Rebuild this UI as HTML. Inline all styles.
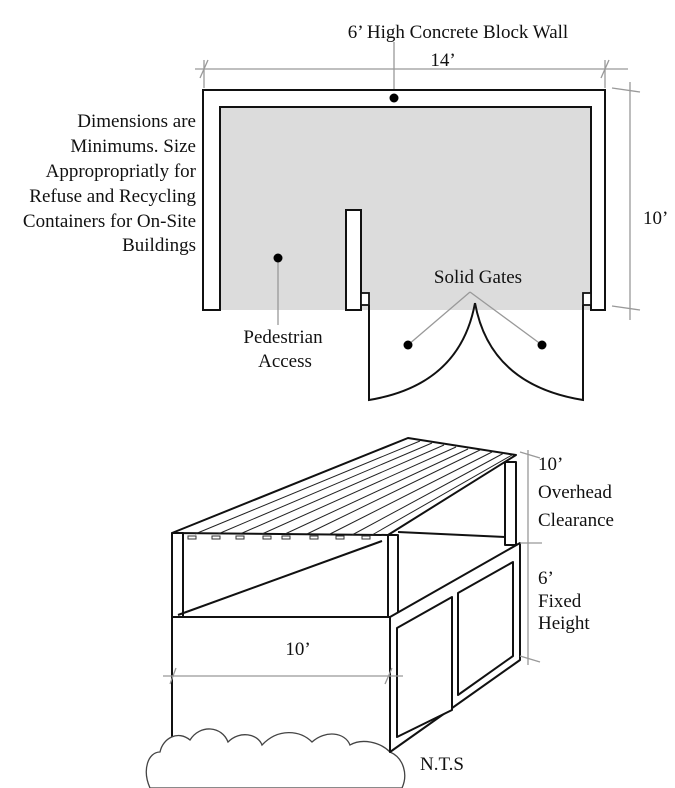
<!DOCTYPE html>
<html><head><meta charset="utf-8"><style>
html,body{margin:0;padding:0;background:#fff;}
svg{display:block;font-family:"Liberation Serif",serif;}
</style></head><body>
<svg width="675" height="788" viewBox="0 0 675 788" xmlns="http://www.w3.org/2000/svg">
<!-- plan -->
<rect x="220" y="106" width="371" height="204" fill="#dcdcdc"/>
<g stroke="#999" stroke-width="1.3" fill="none">
<line x1="195" y1="69" x2="628" y2="69"/>
<line x1="200" y1="78" x2="208" y2="60"/>
<line x1="601" y1="78" x2="609" y2="60"/>
<line x1="204" y1="60" x2="204" y2="88"/>
<line x1="605" y1="60" x2="605" y2="88"/>
<line x1="630" y1="82" x2="630" y2="320"/>
<line x1="612" y1="88" x2="640" y2="92"/>
<line x1="612" y1="306" x2="640" y2="310"/>
<line x1="394" y1="42" x2="394" y2="98"/>
</g>
<path d="M203 310 V90 H605 V310 H591 V107 H220 V310 Z" fill="#fff" stroke="#111" stroke-width="2"/>
<rect x="346" y="210" width="15" height="100" fill="#fff" stroke="#111" stroke-width="2"/>
<rect x="361" y="293" width="8" height="12" fill="#fff" stroke="#111" stroke-width="1.8"/>
<rect x="583" y="293" width="8" height="12" fill="#fff" stroke="#111" stroke-width="1.8"/>
<g stroke="#999" stroke-width="1.3" fill="none">
<line x1="278" y1="258" x2="278" y2="325"/>
<line x1="408" y1="345" x2="470" y2="292"/>
<line x1="542" y1="345" x2="470" y2="292"/>
</g>
<g stroke="#111" stroke-width="2" fill="none">
<path d="M369 305 V400 Q460 385 475 303"/>
<path d="M583 305 V400 Q490 385 475 303"/>
</g>
<g fill="#000">
<circle cx="394" cy="98" r="4.5"/><circle cx="278" cy="258" r="4.5"/>
<circle cx="408" cy="345" r="4.5"/><circle cx="542" cy="345" r="4.5"/>
</g>
<!-- 3D -->
<g stroke="#111" stroke-width="2" fill="#fff" stroke-linejoin="round">
<path d="M172 533 L408 438 L516 455 L388 535 Z"/>
<rect x="172" y="533" width="11" height="84"/>
<rect x="388" y="535" width="10" height="82"/>
<rect x="505" y="462" width="11" height="83"/>
<line x1="178" y1="615" x2="382" y2="541"/>
<line x1="398" y1="532" x2="505" y2="537"/>
<path d="M172 740 V617 H390" fill="none"/>
</g>
<g stroke="#222" stroke-width="1">
<line x1="195" y1="534" x2="420" y2="441"/>
<line x1="218" y1="534" x2="432" y2="443"/>
<line x1="240" y1="534" x2="444" y2="445"/>
<line x1="262" y1="534" x2="456" y2="447"/>
<line x1="285" y1="534" x2="468" y2="449"/>
<line x1="307" y1="534" x2="480" y2="450"/>
<line x1="330" y1="534" x2="492" y2="452"/>
<line x1="352" y1="535" x2="504" y2="453"/>
<line x1="372" y1="535" x2="512" y2="455"/>
</g>
<g fill="#fff" stroke="#333" stroke-width="1">
<rect x="188" y="536" width="8" height="3"/><rect x="212" y="536" width="8" height="3"/>
<rect x="236" y="536" width="8" height="3"/><rect x="263" y="536" width="8" height="3"/>
<rect x="282" y="536" width="8" height="3"/><rect x="310" y="536" width="8" height="3"/>
<rect x="336" y="536" width="8" height="3"/><rect x="362" y="536" width="8" height="3"/>
</g>
<path d="M150 788 C142 770 148 752 160 752 C163 738 178 730 190 740 C200 724 222 726 228 742 C240 730 258 734 262 745 C278 728 300 730 312 742 C325 730 345 732 350 745 C362 738 380 742 390 752 C404 758 408 775 402 788 Z" fill="#fff" stroke="#444" stroke-width="1.3"/>
<g stroke="#111" stroke-width="2" fill="#fff" stroke-linejoin="round">
<path d="M390 617 L520 543 V660 L390 752 Z"/>
<path d="M397 628 L452 597 V710 L397 737 Z"/>
<path d="M458 593 L513 562 V656 L458 695 Z"/>
</g>
<g stroke="#999" stroke-width="1.3" fill="none">
<line x1="528" y1="450" x2="528" y2="665"/>
<line x1="520" y1="452" x2="540" y2="458"/>
<line x1="520" y1="543" x2="542" y2="543"/>
<line x1="520" y1="656" x2="540" y2="662"/>
<line x1="163" y1="676" x2="403" y2="676"/>
<line x1="170" y1="684" x2="176" y2="668"/>
<line x1="385" y1="684" x2="392" y2="668"/>
</g>
<g fill="#111" font-size="19">
<text x="458" y="38" text-anchor="middle">6’ High Concrete Block Wall</text>
<text x="443" y="66" text-anchor="middle">14’</text>
<g text-anchor="end">
<text x="196" y="127">Dimensions are</text>
<text x="196" y="152">Minimums. Size</text>
<text x="196" y="177">Appropropriatly for</text>
<text x="196" y="202">Refuse and Recycling</text>
<text x="196" y="227">Containers for On-Site</text>
<text x="196" y="251">Buildings</text>
</g>
<text x="643" y="224">10’</text>
<text x="478" y="283" text-anchor="middle">Solid Gates</text>
<text x="283" y="343" text-anchor="middle">Pedestrian</text>
<text x="285" y="367" text-anchor="middle">Access</text>
<text x="538" y="470">10’</text>
<text x="538" y="498">Overhead</text>
<text x="538" y="526">Clearance</text>
<text x="538" y="584">6’</text>
<text x="538" y="607">Fixed</text>
<text x="538" y="629">Height</text>
<text x="298" y="655" text-anchor="middle">10’</text>
<text x="420" y="770">N.T.S</text>
</g>
</svg>
</body></html>
